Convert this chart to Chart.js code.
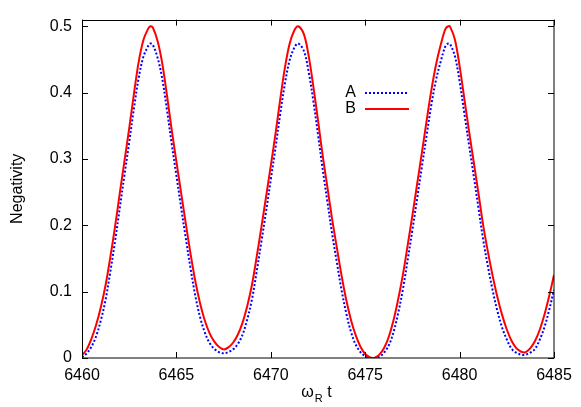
<!DOCTYPE html>
<html>
<head>
<meta charset="utf-8">
<script src="https://cdn.jsdelivr.net/npm/chart.js@4.4.1/dist/chart.umd.min.js"></script>
<style>
  html, body { margin: 0; padding: 0; background: #ffffff; }
  #wrap { width: 581px; height: 407px; }
</style>
</head>
<body>
<div id="wrap"><canvas id="c" width="581" height="407"></canvas></div>
<script>
// ---- data ----
const xValues = [
  6460.00, 6460.25, 6460.50, 6460.75, 6461.00, 6461.25, 6461.50, 6461.75,
  6462.00, 6462.25, 6462.50, 6462.75, 6463.00, 6463.25, 6463.50, 6463.62,
  6463.75, 6464.00, 6464.25, 6464.50, 6464.75, 6465.00, 6465.25, 6465.50,
  6465.75, 6466.00, 6466.25, 6466.50, 6466.75, 6467.00, 6467.25, 6467.51,
  6467.75, 6468.00, 6468.25, 6468.50, 6468.75, 6469.00, 6469.25, 6469.50,
  6469.75, 6470.00, 6470.25, 6470.50, 6470.75, 6471.00, 6471.25, 6471.45,
  6471.75, 6472.00, 6472.25, 6472.50, 6472.75, 6473.00, 6473.25, 6473.50,
  6473.75, 6474.00, 6474.25, 6474.50, 6474.75, 6475.00, 6475.25, 6475.42,
  6475.50, 6475.75, 6476.00, 6476.25, 6476.50, 6476.75, 6477.00, 6477.25,
  6477.50, 6477.75, 6478.00, 6478.25, 6478.50, 6478.75, 6479.00, 6479.25,
  6479.40, 6479.50, 6479.75, 6480.00, 6480.25, 6480.50, 6480.75, 6481.00,
  6481.25, 6481.50, 6481.75, 6482.00, 6482.25, 6482.50, 6482.75, 6483.00,
  6483.25, 6483.37, 6483.50, 6483.75, 6484.00, 6484.25, 6484.50, 6484.75,
  6485.00
];
const seriesB = [
  0.004, 0.013, 0.029, 0.050, 0.077, 0.110, 0.152, 0.198,
  0.248, 0.297, 0.346, 0.398, 0.446, 0.479, 0.496, 0.500,
  0.498, 0.478, 0.444, 0.396, 0.344, 0.296, 0.249, 0.202,
  0.157, 0.116, 0.083, 0.057, 0.038, 0.025, 0.017, 0.013,
  0.016, 0.023, 0.035, 0.053, 0.078, 0.110, 0.152, 0.197,
  0.243, 0.290, 0.338, 0.390, 0.438, 0.474, 0.494, 0.500,
  0.488, 0.456, 0.410, 0.358, 0.305, 0.257, 0.209, 0.166,
  0.124, 0.087, 0.057, 0.034, 0.017, 0.006, 0.001, 0.000,
  0.000, 0.005, 0.015, 0.032, 0.057, 0.089, 0.126, 0.170,
  0.215, 0.262, 0.309, 0.357, 0.403, 0.442, 0.472, 0.496,
  0.500, 0.499, 0.480, 0.440, 0.391, 0.342, 0.295, 0.248,
  0.200, 0.160, 0.124, 0.092, 0.065, 0.043, 0.026, 0.015,
  0.0095, 0.0085, 0.009, 0.015, 0.026, 0.043, 0.066, 0.094,
  0.125
];
const seriesA = [
  0.001, 0.007, 0.017, 0.033, 0.057, 0.088, 0.130, 0.176,
  0.226, 0.276, 0.325, 0.376, 0.422, 0.454, 0.470, 0.474,
  0.472, 0.453, 0.421, 0.374, 0.323, 0.275, 0.227, 0.180,
  0.135, 0.094, 0.062, 0.039, 0.023, 0.014, 0.009, 0.007,
  0.009, 0.013, 0.021, 0.035, 0.058, 0.088, 0.130, 0.175,
  0.221, 0.269, 0.317, 0.368, 0.414, 0.449, 0.468, 0.474,
  0.463, 0.432, 0.388, 0.337, 0.284, 0.235, 0.187, 0.144,
  0.102, 0.067, 0.039, 0.020, 0.009, 0.003, 0.000, 0.000,
  0.000, 0.002, 0.008, 0.019, 0.039, 0.068, 0.104, 0.148,
  0.193, 0.240, 0.288, 0.335, 0.381, 0.419, 0.447, 0.470,
  0.474, 0.473, 0.455, 0.417, 0.369, 0.321, 0.274, 0.226,
  0.178, 0.138, 0.102, 0.071, 0.046, 0.028, 0.014, 0.008,
  0.005, 0.0045, 0.005, 0.008, 0.014, 0.028, 0.047, 0.073,
  0.103
];
const seriesNames = ['A', 'B'];
const xTickValues = [6460, 6465, 6470, 6475, 6480, 6485];
const yTickValues = [0, 0.1, 0.2, 0.3, 0.4, 0.5];
const xRange = [6460, 6485];
const yRange = [0, 0.51];
const xTitleMain = 'ω';
const xTitleSub = 'R';
const xTitleTail = ' t';
const yTitle = 'Negativity';

const FONT = '"Liberation Sans", Arial, Helvetica, sans-serif';

const framePlugin = {
  id: 'gnuplotFrame',
  beforeDraw(chart) {
    const ctx = chart.ctx;
    ctx.save();
    ctx.fillStyle = '#ffffff';
    ctx.fillRect(0, 0, chart.width, chart.height);
    ctx.restore();
  },
  afterDraw(chart) {
    const ctx = chart.ctx;
    const a = chart.chartArea;
    const xs = chart.scales.x, ys = chart.scales.y;
    ctx.save();
    // frame
    ctx.strokeStyle = '#000000';
    ctx.lineWidth = 1;
    ctx.strokeRect(Math.round(a.left) + 0.5, Math.round(a.top) + 0.5,
                   Math.round(a.right - a.left) - 0.5, Math.round(a.bottom - a.top) - 0.5);
    // inward ticks on all four sides
    const tl = 6;
    ctx.beginPath();
    xTickValues.forEach(v => {
      const px = Math.round(xs.getPixelForValue(v)) + 0.5;
      ctx.moveTo(px, a.bottom); ctx.lineTo(px, a.bottom - tl);
      ctx.moveTo(px, a.top); ctx.lineTo(px, a.top + tl);
    });
    yTickValues.forEach(v => {
      const py = Math.round(ys.getPixelForValue(v)) + 0.5;
      ctx.moveTo(a.left, py); ctx.lineTo(a.left + tl, py);
      ctx.moveTo(a.right, py); ctx.lineTo(a.right - tl, py);
    });
    ctx.stroke();

    // legend (gnuplot style: label right-aligned, then line sample)
    ctx.font = '16px ' + FONT;
    ctx.fillStyle = '#000000';
    ctx.textAlign = 'right';
    ctx.textBaseline = 'middle';
    const lx = 356, ly0 = 93, lstep = 16;
    chart.data.datasets.forEach((ds, i) => {
      const y = ly0 + i * lstep;
      ctx.fillText(ds.label, lx, y);
      ctx.save();
      ctx.strokeStyle = ds.borderColor;
      ctx.lineWidth = ds.borderWidth;
      ctx.setLineDash(ds.borderDash || []);
      ctx.beginPath();
      ctx.moveTo(365, y);
      ctx.lineTo(409, y);
      ctx.stroke();
      ctx.restore();
    });

    // x title with subscript
    ctx.textAlign = 'left';
    ctx.textBaseline = 'alphabetic';
    ctx.font = '16px ' + FONT;
    const base = 397;
    const w1 = ctx.measureText(xTitleMain).width;
    ctx.font = '11px ' + FONT;
    const w2 = ctx.measureText(xTitleSub).width;
    ctx.font = '16px ' + FONT;
    const w3 = ctx.measureText(xTitleTail).width;
    const cx = (a.left + a.right) / 2 - 2;
    let x0 = cx - (w1 + w2 + w3) / 2;
    ctx.fillText(xTitleMain, x0, base);
    ctx.font = '11px ' + FONT;
    ctx.fillText(xTitleSub, x0 + w1 + 1, base + 5);
    ctx.font = '16px ' + FONT;
    ctx.fillText(xTitleTail, x0 + w1 + w2 + 1, base);

    // y title rotated
    ctx.save();
    ctx.translate(22, (a.top + a.bottom) / 2);
    ctx.rotate(-Math.PI / 2);
    ctx.textAlign = 'center';
    ctx.textBaseline = 'alphabetic';
    ctx.font = '16px ' + FONT;
    ctx.fillText(yTitle, 0, 0);
    ctx.restore();
    ctx.restore();
  }
};

const toPoints = arr => xValues.map((x, i) => ({ x: x, y: arr[i] }));

new Chart(document.getElementById('c'), {
  type: 'line',
  data: {
    datasets: [
      {
        label: seriesNames[0],
        data: toPoints(seriesA),
        borderColor: '#0000ff',
        borderWidth: 2,
        borderDash: [2, 2],
        pointRadius: 0,
        fill: false,
        tension: 0.35,
        order: 2
      },
      {
        label: seriesNames[1],
        data: toPoints(seriesB),
        borderColor: '#ff0000',
        borderWidth: 2,
        pointRadius: 0,
        fill: false,
        tension: 0.35,
        order: 1
      }
    ]
  },
  options: {
    responsive: false,
    animation: false,
    events: [],
    layout: { padding: { top: 19, right: 27, left: 0, bottom: 0 } },
    plugins: { legend: { display: false }, tooltip: { enabled: false } },
    scales: {
      x: {
        type: 'linear',
        min: xRange[0], max: xRange[1],
        grid: { display: false, drawTicks: false },
        border: { display: false },
        afterBuildTicks: s => { s.ticks = xTickValues.map(v => ({ value: v })); },
        afterFit: s => { s.height = 49; },
        ticks: {
          color: '#000000',
          font: { family: FONT, size: 16 },
          padding: 8,
          maxRotation: 0,
          autoSkip: false,
          callback: v => String(v)
        }
      },
      y: {
        type: 'linear',
        min: yRange[0], max: yRange[1],
        grid: { display: false, drawTicks: false },
        border: { display: false },
        afterBuildTicks: s => { s.ticks = yTickValues.map(v => ({ value: v })); },
        afterFit: s => { s.width = 82; },
        ticks: {
          color: '#000000',
          font: { family: FONT, size: 16 },
          padding: 10,
          autoSkip: false,
          callback: v => String(v)
        }
      }
    }
  },
  plugins: [framePlugin]
});
</script>
</body>
</html>
